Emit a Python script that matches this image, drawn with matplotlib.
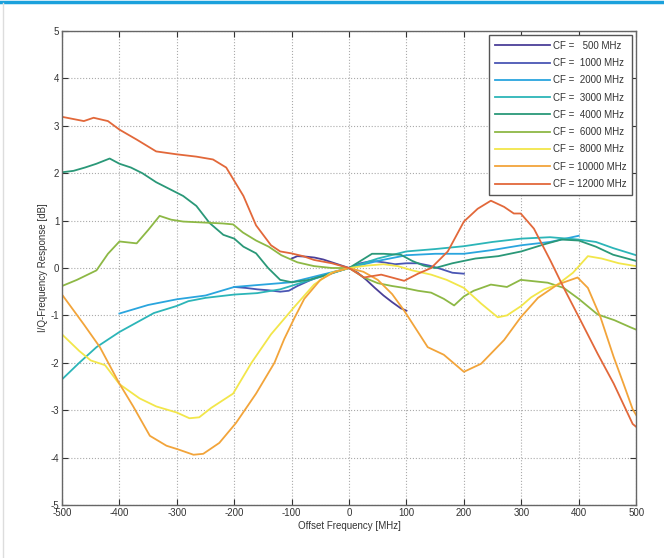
import matplotlib.pyplot as plt
from matplotlib.lines import Line2D
import numpy as np

plt.rcParams['font.family'] = ['Liberation Sans', 'DejaVu Sans']
plt.rcParams['axes.unicode_minus'] = False

# CF series: offset frequency [MHz] and I/Q response [dB]
x500 = [-100, -90, -75, -60, -45, -30, -15, 0, 15, 30, 45, 60, 75, 90, 100]
y500 = [0.2, 0.25, 0.24, 0.22, 0.18, 0.12, 0.06, 0, -0.1, -0.25, -0.42, -0.58, -0.72, -0.85, -0.9]

x1000 = [-200, -180, -160, -140, -120, -105, -90, -70, -50, -30, -15, 0, 20, 40, 60, 80, 100,
         120, 140, 160, 180, 200]
y1000 = [-0.4, -0.42, -0.45, -0.47, -0.5, -0.48, -0.38, -0.27, -0.17, -0.1, -0.05, 0, 0.1, 0.15,
         0.12, 0.08, 0.1, 0.1, 0.05, -0.02, -0.1, -0.12]

x2000 = [-400, -350, -300, -250, -200, -150, -100, -50, 0, 50, 100, 150, 200, 250, 300, 350, 400]
y2000 = [-0.96, -0.78, -0.66, -0.58, -0.4, -0.35, -0.3, -0.15, 0, 0.15, 0.27, 0.3, 0.3, 0.38,
         0.48, 0.55, 0.68]

x3000 = [-500, -470, -440, -400, -370, -340, -300, -280, -250, -200, -160, -120, -80, -40, 0,
         50, 100, 150, 200, 250, 300, 350, 400, 430, 460, 500]
y3000 = [-2.35, -2.0, -1.67, -1.35, -1.15, -0.95, -0.8, -0.7, -0.63, -0.56, -0.53, -0.45, -0.3,
         -0.15, 0, 0.2, 0.35, 0.4, 0.46, 0.55, 0.62, 0.65, 0.6, 0.55, 0.42, 0.27]

x4000 = [-500, -480, -460, -440, -417, -400, -380, -360, -336, -310, -289, -266, -243, -219,
         -200, -184, -162, -141, -120, -100, -70, -40, -20, 0, 20, 40, 60, 90, 110, 130, 150,
         180, 220, 260, 300, 340, 370, 400, 430, 460, 500]
y4000 = [2.02, 2.05, 2.12, 2.2, 2.31, 2.2, 2.12, 2.0, 1.81, 1.65, 1.52, 1.31, 0.95, 0.7, 0.62,
         0.45, 0.31, 0.0, -0.25, -0.3, -0.25, -0.15, -0.07, 0, 0.15, 0.3, 0.3, 0.28, 0.15, 0.05,
         0.0, 0.1, 0.2, 0.25, 0.35, 0.5, 0.6, 0.58, 0.45, 0.28, 0.15]

x6000 = [-500, -474, -440, -420, -400, -370, -350, -330, -310, -289, -254, -220, -202, -185,
         -162, -140, -118, -90, -61, -30, 0, 26, 50, 75, 96, 120, 143, 165, 183, 200, 217, 247,
         275, 299, 346, 374, 400, 433, 462, 490, 500]
y6000 = [-0.38, -0.25, -0.05, 0.3, 0.56, 0.52, 0.8, 1.1, 1.02, 0.98, 0.96, 0.94, 0.92, 0.75,
         0.58, 0.45, 0.27, 0.12, 0.04, 0.0, 0, -0.2, -0.32, -0.38, -0.42, -0.48, -0.52, -0.65,
         -0.79, -0.6, -0.48, -0.35, -0.4, -0.25, -0.31, -0.42, -0.65, -0.98, -1.1, -1.25, -1.3]

x8000 = [-500, -470, -450, -425, -400, -365, -336, -300, -278, -261, -240, -202, -170, -136,
         -96, -61, -31, 0, 30, 60, 85, 110, 143, 170, 200, 230, 259, 275, 300, 317, 340, 363,
         390, 416, 440, 470, 500]
y8000 = [-1.4, -1.75, -1.95, -2.05, -2.45, -2.75, -2.92, -3.05, -3.17, -3.15, -2.95, -2.65,
         -2.0, -1.4, -0.83, -0.35, -0.1, 0, 0.05, 0.08, 0.04, -0.05, -0.14, -0.25, -0.42, -0.75,
         -1.04, -1.0, -0.8, -0.62, -0.45, -0.35, -0.1, 0.25, 0.2, 0.1, 0.04]

x10000 = [-500, -462, -434, -400, -376, -347, -318, -297, -271, -254, -226, -197, -162, -130,
          -113, -95, -78, -50, -25, 0, 25, 50, 75, 96, 120, 137, 165, 200, 230, 270, 299, 329,
          363, 398, 416, 438, 461, 478, 494, 500]
y10000 = [-0.56, -1.19, -1.67, -2.44, -2.92, -3.54, -3.75, -3.83, -3.94, -3.92, -3.69, -3.27,
          -2.65, -2.0, -1.5, -1.05, -0.65, -0.25, -0.08, 0, -0.08, -0.25, -0.55, -0.9, -1.35,
          -1.67, -1.83, -2.19, -2.02, -1.52, -1.04, -0.63, -0.35, -0.2, -0.42, -1.04, -1.88,
          -2.44, -2.98, -3.1]

x12000 = [-500, -462, -445, -420, -400, -370, -336, -301, -266, -237, -214, -184, -162, -136,
          -120, -101, -80, -61, -30, 0, 26, 56, 96, 120, 143, 172, 200, 224, 247, 270, 287, 299,
          322, 351, 374, 403, 433, 461, 494, 500]
y12000 = [3.19, 3.1, 3.17, 3.1, 2.92, 2.71, 2.46, 2.4, 2.35, 2.29, 2.12, 1.52, 0.9, 0.48, 0.35,
          0.31, 0.25, 0.17, 0.1, 0, -0.2, -0.14, -0.27, -0.12, 0, 0.35, 0.98, 1.25, 1.42, 1.29,
          1.15, 1.15, 0.83, 0.15, -0.42, -1.1, -1.81, -2.44, -3.29, -3.35]

labels = ['CF =   500 MHz', 'CF =  1000 MHz', 'CF =  2000 MHz', 'CF =  3000 MHz',
          'CF =  4000 MHz', 'CF =  6000 MHz', 'CF =  8000 MHz', 'CF = 10000 MHz',
          'CF = 12000 MHz']
series = [(x500, y500), (x1000, y1000), (x2000, y2000), (x3000, y3000), (x4000, y4000),
          (x6000, y6000), (x8000, y8000), (x10000, y10000), (x12000, y12000)]
colors = ['#4b3f98', '#4a56b4', '#2aa5de', '#2cb5b8', '#2a9878', '#8db845', '#f2e64a',
          '#f2a43a', '#e2683a']

fig = plt.figure(figsize=(6.64, 5.58), dpi=100)
ax = fig.add_axes([0.0934, 0.095, 0.8646, 0.8494])

for (xs, ys), lab, col in zip(series, labels, colors):
    ax.plot(xs, ys, color=col, linewidth=1.3, label=lab)

ax.set_xlim(-500, 500)
ax.set_ylim(-5, 5)
ax.set_xticks(np.arange(-500, 501, 100))
ax.set_yticks(np.arange(-5, 6, 1))
ax.grid(True, color='#aaaaaa', linestyle=':', linewidth=0.8)
ax.tick_params(direction='in', length=4, width=0.8, top=True, right=True,
               labelsize=7, colors='#333333', pad=2)
for s in ax.spines.values():
    s.set_color('#666666')
    s.set_linewidth(1.0)

ax.set_xlabel('Offset Frequency [MHz]', fontsize=7, color='#333333', labelpad=2)
ax.set_ylabel('I/Q-Frequency Response [dB]', fontsize=7, color='#333333', labelpad=2)

leg = ax.legend(loc='upper right', bbox_to_anchor=(0.993, 0.992), borderaxespad=0,
                fontsize=7, handlelength=5.6, labelspacing=0.75, fancybox=False,
                framealpha=1, edgecolor='#555555', handletextpad=0.3, borderpad=0.6)
leg.get_frame().set_linewidth(1.0)
for t in leg.get_texts():
    t.set_color('#333333')

# page frame: cyan rule on top, faint rule at left
fig.add_artist(Line2D([0, 1], [0.997, 0.997], color='#1ba1dc', linewidth=2.5,
                      transform=fig.transFigure))
fig.add_artist(Line2D([0.005, 0.005], [0, 0.995], color='#dddddd', linewidth=1.0,
                      transform=fig.transFigure))

plt.savefig('out.png', dpi=100)
